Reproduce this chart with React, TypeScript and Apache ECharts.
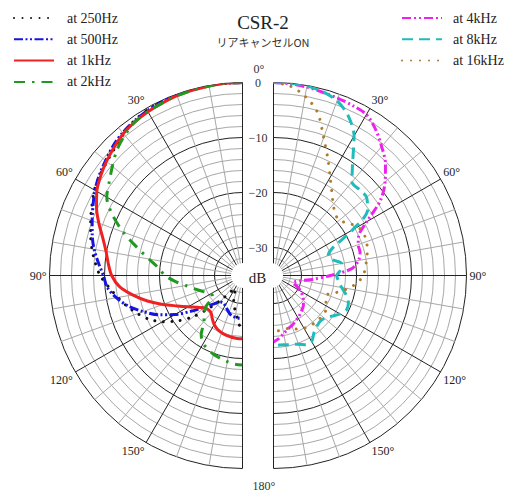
import React, { useEffect, useRef } from "react";
import * as echarts from "echarts";

// Angles (degrees) at which every pattern is sampled
const ANGLES = [
  0, 5, 10, 15, 20, 25, 30, 35, 40, 45, 50, 55, 60, 65, 70, 75, 80, 85, 90,
  95, 100, 105, 110, 115, 120, 125, 130, 135, 140, 145, 150, 155, 160, 165,
  170, 175, 180,
];

// Left half (low frequencies), dB
const DB_250HZ = [
  0, 0, 0, -0.1, -0.2, -0.3, -0.4, -0.8, -1.5, -2.3, -2.9, -3.4, -4.0, -4.9,
  -5.7, -6.5, -7.3, -8.2, -9.2, -10.7, -12.1, -13.4, -14.8, -16.3, -18.3,
  -20.7, -23.5, -27.0, -29.8, -31.6, -32.4, -31.8, -30.4, -29.2, -28.3, -26.5,
  -25.0,
];
const DB_500HZ = [
  0, 0, 0, -0.1, -0.2, -0.3, -0.5, -0.8, -1.2, -1.8, -2.6, -3.3, -4.1, -5.1,
  -6.0, -6.8, -7.7, -8.8, -9.8, -10.4, -11.8, -13.6, -15.9, -18.2, -20.9,
  -23.8, -26.2, -27.8, -28.8, -29.0, -28.8, -28.4, -27.9, -27.5, -27.4, -27.3,
  -27.3,
];
const DB_1KHZ = [
  0, 0, -0.1, -0.2, -0.3, -0.5, -0.7, -1.0, -1.4, -2.1, -2.8, -3.6, -4.5, -5.8,
  -7.3, -8.8, -9.9, -10.6, -11.3, -12.6, -14.8, -17.2, -19.7, -22.0, -23.7,
  -25.0, -26.0, -26.3, -26.2, -25.5, -24.8, -24.3, -24.0, -23.8, -23.7, -23.6,
  -23.6,
];
const DB_2KHZ = [
  0, 0, -0.1, -0.2, -0.3, -0.5, -0.7, -1.0, -1.8, -2.8, -4.2, -5.5, -6.6, -9.0,
  -12.0, -15.2, -17.8, -19.8, -21.0, -22.8, -24.6, -25.9, -27.0, -27.8, -28.4,
  -28.5, -26.5, -25.2, -24.2, -22.0, -20.8, -20.3, -19.8, -19.5, -19.2, -18.9,
  -18.8,
];

// Right half (high frequencies), dB
const DB_4KHZ = [
  0, -0.1, -0.3, -0.6, -0.8, -1.0, -1.3, -2.7, -4.5, -6.3, -8.6, -11.4, -15.5,
  -18.0, -18.7, -18.8, -19.4, -20.8, -24.7, -27.7, -29.8, -30.9, -31.3, -30.3,
  -29.4, -28.6, -28.0, -27.4, -27.0, -26.6, -26.2, -25.8, -25.4, -25.0, -24.4,
  -23.6, -23.0,
];
const DB_8KHZ = [
  0, 0, -0.1, -0.5, -1.3, -3.0, -5.8, -10.0, -12.9, -13.0, -13.0, -14.2, -18.5,
  -23.2, -24.5, -24.0, -22.5, -22.8, -23.6, -23.2, -22.5, -21.4, -20.6, -20.4,
  -21.1, -22.2, -23.0, -23.2, -22.9, -22.3, -21.2, -21.2, -21.8, -22.1, -22.3,
  -22.4, -22.3,
];
const DB_16KHZ = [
  0, -0.5, -2.0, -4.3, -8.4, -11.7, -14.5, -16.6, -18.2, -19.2, -19.5, -18.5,
  -17.4, -17.0, -17.1, -17.4, -17.9, -18.3, -18.8, -19.8, -21.4, -23.2, -24.8,
  -24.6, -24.0, -23.6, -23.6, -23.6, -23.7, -23.8, -24.0, -24.3, -24.8, -25.1,
  -25.1, -25.0, -24.9,
];

const LEFT_NAMES = ["at 250Hz", "at 500Hz", "at 1kHz", "at 2kHz"];
const RIGHT_NAMES = ["at 4kHz", "at 8kHz", "at 16kHz"];
const LEFT_VALUES = [DB_250HZ, DB_500HZ, DB_1KHZ, DB_2KHZ];
const RIGHT_VALUES = [DB_4KHZ, DB_8KHZ, DB_16KHZ];

const ANGLE_LABEL_VALUES = [30, 60, 90, 120, 150];
const RADIUS_TICK_VALUES = [0, -10, -20, -30];
const RADIUS_TICK_LABELS = ["0", "\u221210", "\u221220", "\u221230"];

const TITLE = "CSR-2";
const SUBTITLE = "リアキャンセルON";

const SERIF = "Liberation Serif";
const GRID = "#a8a8a8";
const DARK = "#222222";

const LINE_STYLES: Record<string, any> = {
  "at 250Hz": { color: "#111111", width: 3, type: [0.01, 8.5], cap: "round" },
  "at 500Hz": { color: "#1414e6", width: 3, type: [9, 2.5, 2, 2.5, 2, 2.5] },
  "at 1kHz": { color: "#ee2222", width: 3, type: "solid" },
  "at 2kHz": { color: "#1f9a1f", width: 3, type: [11, 7, 2.5, 7] },
  "at 4kHz": { color: "#ee22ee", width: 3, type: [9, 3, 2, 3, 2, 3] },
  "at 8kHz": { color: "#22bbbb", width: 3, type: [11, 6] },
  "at 16kHz": { color: "#b07c2c", width: 3, type: [0.01, 9], cap: "round" },
};

function makeSeries(name: string, values: number[], polarIndex: number) {
  const ls = LINE_STYLES[name];
  return {
    name,
    type: "line",
    coordinateSystem: "polar",
    polarIndex,
    data: ANGLES.map((a, i) => [values[i], a]),
    symbol: "none",
    showSymbol: false,
    smooth: 0.3,
    color: ls.color,
    lineStyle: ls,
    z: 2,
  };
}

function angleAxis(polarIndex: number, endAngle: number, clockwise: boolean) {
  return {
    polarIndex,
    type: "value",
    min: 0,
    max: 180,
    interval: 10,
    startAngle: 90,
    endAngle,
    clockwise,
    axisLine: { show: false },
    axisTick: { show: false },
    axisLabel: {
      show: true,
      margin: 3,
      fontFamily: SERIF,
      fontSize: 12,
      color: "#222",
      formatter: (v: number) => (ANGLE_LABEL_VALUES.includes(v) ? v + "°" : ""),
    },
    splitLine: { show: true, lineStyle: { color: [DARK, GRID, GRID], width: 1 } },
  };
}

function radiusAxis(polarIndex: number, showLabels: boolean) {
  return {
    polarIndex,
    type: "value",
    min: -34,
    max: 0,
    interval: 2,
    axisLine: { show: false },
    axisTick: { show: false },
    axisLabel: {
      show: showLabels,
      margin: 15.5,
      align: "center",
      fontFamily: SERIF,
      fontSize: 12,
      color: "#333",
      padding: [6, 0, 0, 0],
      formatter: (v: number) => {
        const i = RADIUS_TICK_VALUES.indexOf(v);
        return i >= 0 ? RADIUS_TICK_LABELS[i] : "";
      },
    },
    splitLine: {
      show: true,
      lineStyle: { color: [GRID, GRID, DARK, GRID, GRID], width: 1 },
    },
  };
}

function legend(names: string[], left: number, pad: number) {
  return {
    data: names,
    orient: "vertical",
    left,
    top: 6,
    itemWidth: 40,
    itemHeight: 14,
    itemGap: 7.3,
    selectedMode: false,
    itemStyle: { opacity: 0, borderWidth: 0 },
    textStyle: {
      fontFamily: SERIF,
      fontSize: 14,
      color: "#222",
      lineHeight: 14,
      padding: [0, 0, 0, pad],
    },
  };
}

export default function App() {
  const ref = useRef<HTMLDivElement>(null);

  useEffect(() => {
    if (!ref.current) return;
    const chart = echarts.init(ref.current, null, { renderer: "svg" });
    const option: any = {
      animation: false,
      textStyle: { fontFamily: SERIF },
      title: {
        text: TITLE,
        subtext: SUBTITLE,
        left: 258,
        top: 8,
        textAlign: "center",
        itemGap: 5,
        textStyle: { fontFamily: SERIF, fontSize: 19, fontWeight: "normal", color: "#222" },
        subtextStyle: { fontFamily: "Noto Sans CJK JP", fontSize: 11, color: "#333" },
      },
      legend: [legend(LEFT_NAMES, 8, 8), legend(RIGHT_NAMES, 396, 6)],
      polar: [
        { center: [242.5, 275.5], radius: [6, 193] },
        { center: [273.5, 275.5], radius: [6, 193] },
      ],
      angleAxis: [angleAxis(0, 270, false), angleAxis(1, -90, true)],
      radiusAxis: [radiusAxis(0, false), radiusAxis(1, true)],
      series: [
        ...LEFT_NAMES.map((n, i) => makeSeries(n, LEFT_VALUES[i], 0)),
        ...RIGHT_NAMES.map((n, i) => makeSeries(n, RIGHT_VALUES[i], 1)),
      ],
      graphic: [
        {
          type: "rect",
          z: 10,
          shape: { x: 231, y: 263, width: 52, height: 25, r: 12.5 },
          style: { fill: "#ffffff" },
        },
        {
          type: "text",
          z: 11,
          x: 257.5,
          y: 278,
          style: {
            text: "dB",
            fontFamily: SERIF,
            fontSize: 15,
            fill: "#222",
            align: "center",
            verticalAlign: "middle",
          },
        },
        {
          type: "text",
          z: 11,
          x: 259,
          y: 69,
          style: {
            text: "0°",
            fontFamily: SERIF,
            fontSize: 12,
            fill: "#333",
            align: "center",
            verticalAlign: "middle",
          },
        },
        {
          type: "text",
          z: 11,
          x: 264,
          y: 486,
          style: {
            text: "180°",
            fontFamily: SERIF,
            fontSize: 12,
            fill: "#333",
            align: "center",
            verticalAlign: "middle",
          },
        },
      ],
    };
    chart.setOption(option);
    return () => chart.dispose();
  }, []);

  return (
    <div
      ref={ref}
      style={{ position: "fixed", left: 0, top: 0, width: 507, height: 492, background: "#fff" }}
    />
  );
}
